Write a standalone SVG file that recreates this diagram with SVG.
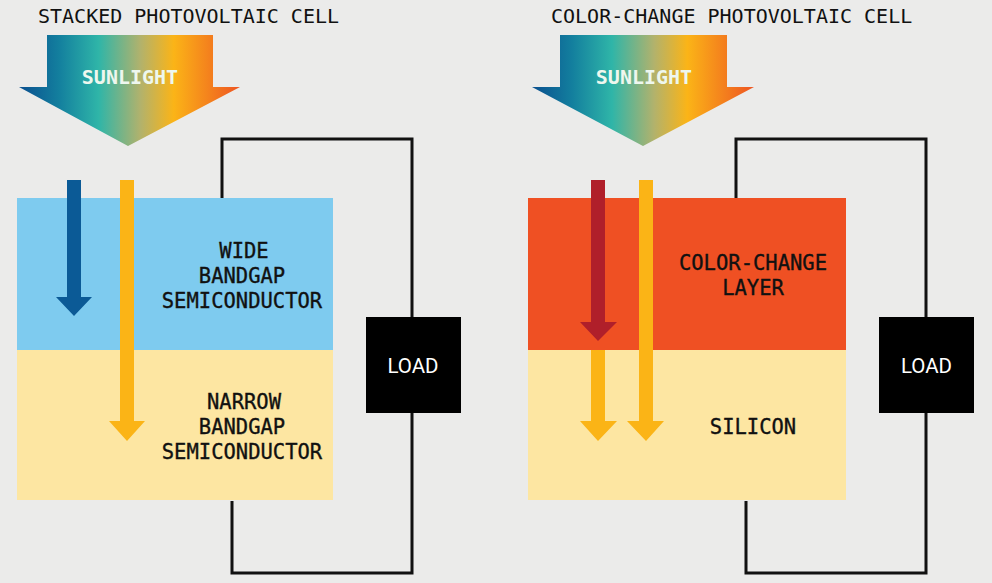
<svg xmlns="http://www.w3.org/2000/svg" width="992" height="583" viewBox="0 0 992 583">
<style>
.title{font-family:"DejaVu Sans Mono","Liberation Mono",monospace;font-size:20px;fill:#111}
.sun{font-family:"DejaVu Sans Mono","Liberation Mono",monospace;font-size:20px;font-weight:bold;fill:#eef7ee;text-anchor:middle}
.lbl{font-family:"DejaVu Sans Mono","Liberation Mono",monospace;font-size:20.5px;fill:#111;text-anchor:middle;stroke:#111;stroke-width:0.35}
.load{font-family:Roboto,"Liberation Sans",Arial,sans-serif;font-size:20.5px;fill:#fff;text-anchor:middle}
.wire{fill:none;stroke:#111;stroke-width:3}
</style>
<defs>
<linearGradient id="sg" x1="0" y1="0" x2="1" y2="0">
<stop offset="0" stop-color="#0a4f8f"/>
<stop offset="0.18" stop-color="#137f9e"/>
<stop offset="0.36" stop-color="#2fb5a8"/>
<stop offset="0.55" stop-color="#b2b26c"/>
<stop offset="0.7" stop-color="#fbb417"/>
<stop offset="1" stop-color="#ee5522"/>
</linearGradient>
</defs>
<rect width="992" height="583" fill="#ebebea"/>

<g id="connectors">
<polyline class="wire" points="222,198 222,139 412,139 412,317"/>
<polyline class="wire" points="412,413 412,573 232,573 232,501"/>
<polyline class="wire" points="736,198 736,139 926,139 926,317"/>
<polyline class="wire" points="926,413 926,573 746,573 746,501"/>
</g>

<g id="left-title"><text class="title" x="38" y="23">STACKED PHOTOVOLTAIC CELL</text></g>
<g id="left-sunlight">
<polygon points="47,35 213,35 213,87 240,87 128,146 19,87 47,87" fill="url(#sg)"/>
<text class="sun" x="130" y="84">SUNLIGHT</text>
</g>
<g id="wide-layer">
<rect x="17" y="198" width="316" height="152" fill="#7ecbef"/>
<text class="lbl" x="244" y="258">WIDE</text>
<text class="lbl" x="242" y="283">BANDGAP</text>
<text class="lbl" x="242" y="308">SEMICONDUCTOR</text>
</g>
<g id="narrow-layer">
<rect x="17" y="350" width="316" height="150" fill="#fde6a2"/>
<text class="lbl" x="244" y="409">NARROW</text>
<text class="lbl" x="242" y="434">BANDGAP</text>
<text class="lbl" x="242" y="459">SEMICONDUCTOR</text>
</g>
<g id="left-blue-ray"><polygon points="67,180 81,180 81,297 92,297 74,316 56,297 67,297" fill="#0b5a96"/></g>
<g id="left-yellow-ray"><polygon points="120,180 134,180 134,421 145,421 127,441 109,421 120,421" fill="#fbb416"/></g>
<g id="left-load">
<rect x="366" y="317" width="95" height="96" fill="#000"/>
<text class="load" x="413" y="373">LOAD</text>
</g>

<g id="right-title"><text class="title" x="551" y="23">COLOR-CHANGE PHOTOVOLTAIC CELL</text></g>
<g id="right-sunlight">
<polygon points="560,35 727,35 727,87 754,87 643,146 532,87 560,87" fill="url(#sg)"/>
<text class="sun" x="644" y="84">SUNLIGHT</text>
</g>
<g id="color-change-layer">
<rect x="528" y="198" width="318" height="152" fill="#ef5023"/>
<text class="lbl" x="753" y="270">COLOR-CHANGE</text>
<text class="lbl" x="753" y="295">LAYER</text>
</g>
<g id="silicon-layer">
<rect x="528" y="350" width="318" height="150" fill="#fde6a2"/>
<text class="lbl" x="753" y="434">SILICON</text>
</g>
<g id="right-red-ray"><polygon points="591,180 605,180 605,322 617,322 598,341 580,322 591,322" fill="#b01f2a"/></g>
<g id="right-converted-ray"><polygon points="591,350 605,350 605,421 617,421 598,441 580,421 591,421" fill="#fbb416"/></g>
<g id="right-yellow-ray"><polygon points="639,180 653,180 653,421 664,421 646,441 627,421 639,421" fill="#fbb416"/></g>
<g id="right-load">
<rect x="879" y="317" width="95" height="96" fill="#000"/>
<text class="load" x="926.5" y="373">LOAD</text>
</g>
</svg>
